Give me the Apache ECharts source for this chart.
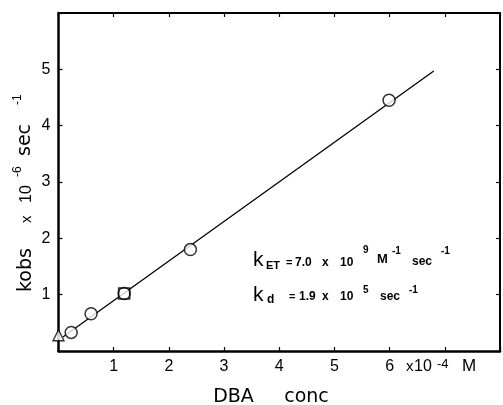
<!DOCTYPE html>
<html><head><meta charset="utf-8">
<script src="https://cdn.jsdelivr.net/npm/echarts@6/dist/echarts.min.js"></script>
<style>html,body{margin:0;padding:0;background:#fff}#c{width:503px;height:405px}</style>
</head><body><div id="c"></div>
<script>
// ---- data ----
const xTickLabels = ['', '1', '2', '3', '4', '5', '6', '', ''];
const yTickLabels = ['', '1', '2', '3', '4', '5', ''];
const circlePoints = [[0.23, 0.33], [0.59, 0.66], [1.19, 1.02], [2.39, 1.80], [5.99, 4.45]];
const squarePoints = [[1.19, 1.02]];
const trianglePoints = [[0, 0.28]];
const fitLine = [[0.08, 0.25], [6.8, 4.97]];

const FONT = 'Liberation Sans';
const WIDE = 'DejaVu Sans';
function txt(x, y, text, fs, extra) {
  return {
    type: 'text', x: x, y: y, silent: true,
    style: Object.assign({ text: text, fontSize: fs, fontFamily: FONT, fill: '#000',
      align: 'left', verticalAlign: 'middle' }, (extra && extra.style) || {})
  };
}
function b(x, y, text, fs) {
  return txt(x, y, text, fs, { style: { fontWeight: 'bold' } });
}

const chart = echarts.init(document.getElementById('c'), null, { renderer: 'canvas' });

const axisCommon = {
  type: 'value',
  splitLine: { show: false },
  axisTick: { inside: true, length: 4, lineStyle: { color: '#000', width: 1.2 } }
};

chart.setOption({
  animation: false,
  backgroundColor: '#fff',
  grid: { left: 58.5, right: 1.5, top: 13, bottom: 54 },
  xAxis: [
    Object.assign({}, axisCommon, {
      min: 0, max: 8, interval: 1, position: 'bottom',
      axisLine: { show: true, onZero: false, lineStyle: { color: '#000', width: 2.5 } },
      axisLabel: { margin: 8, fontSize: 16, color: '#000', fontFamily: FONT,
        formatter: v => xTickLabels[Math.round(v)] }
    }),
    Object.assign({}, axisCommon, {
      min: 0, max: 8, interval: 1, position: 'top',
      axisLine: { show: true, onZero: false, lineStyle: { color: '#000', width: 2 } },
      axisLabel: { show: false }
    })
  ],
  yAxis: [
    Object.assign({}, axisCommon, {
      min: 0, max: 6, interval: 1, position: 'left',
      axisLine: { show: true, onZero: false, lineStyle: { color: '#000', width: 2.5 } },
      axisLabel: { margin: 8, fontSize: 16, color: '#000', fontFamily: FONT,
        formatter: v => yTickLabels[Math.round(v)] }
    }),
    Object.assign({}, axisCommon, {
      min: 0, max: 6, interval: 1, position: 'right',
      axisLine: { show: true, onZero: false, lineStyle: { color: '#000', width: 2 } },
      axisLabel: { show: false }
    })
  ],
  series: [
    { type: 'line', data: fitLine, symbol: 'none', silent: true, z: 1,
      lineStyle: { color: '#000', width: 1.3 } },
    { type: 'scatter', data: circlePoints, symbol: 'circle', symbolSize: 12, z: 2,
      itemStyle: { color: '#fff', borderColor: '#000', borderWidth: 1.5 } },
    { type: 'scatter', data: squarePoints, symbol: 'rect', symbolSize: 11, z: 3,
      itemStyle: { color: 'rgba(0,0,0,0)', borderColor: '#000', borderWidth: 1.6 } },
    { type: 'scatter', data: trianglePoints, symbol: 'triangle', symbolSize: 11, z: 3,
      itemStyle: { color: '#fff', borderColor: '#000', borderWidth: 1.4 } }
  ],
  graphic: [
    // x-axis unit after the "6" tick label
    txt(406, 367, 'x', 15),
    txt(414, 367, '10', 16),
    txt(437, 364.5, '-4', 13),
    txt(462, 366, 'M', 17),
    // x-axis title
    txt(233.5, 397, 'DBA', 19, { style: { align: 'center', fontFamily: WIDE } }),
    txt(306.5, 397, 'conc', 19, { style: { align: 'center', fontFamily: WIDE } }),
    // rotated y-axis title
    {
      type: 'group', x: 26, y: 292, rotation: Math.PI / 2, silent: true,
      children: [
        txt(0, 0, 'kobs', 19, { style: { fontFamily: WIDE } }),
        txt(69, 1, 'x', 15),
        txt(89, 1, '10', 16),
        txt(115, -8.5, '-6', 12),
        txt(136, -1, 'sec', 19, { style: { fontFamily: WIDE } }),
        txt(187, -8, '-1', 12)
      ]
    },
    // annotation line 1
    txt(253, 260, 'k', 21),
    b(266, 266, 'ET', 11),
    b(286, 263, '=', 11),
    b(295, 263, '7.0', 12),
    b(322, 263, 'x', 12),
    b(340, 263, '10', 12),
    b(363, 250, '9', 10),
    b(377, 259, 'M', 13),
    b(392, 251, '-1', 10),
    b(412, 262, 'sec', 12),
    b(441, 251, '-1', 10),
    // annotation line 2
    txt(253, 295, 'k', 21),
    b(267, 300, 'd', 12),
    b(289, 297, '=', 11),
    b(299, 297, '1.9', 12),
    b(322, 297, 'x', 12),
    b(340, 297, '10', 12),
    b(363, 290, '5', 10),
    b(380, 297, 'sec', 12),
    b(409, 290, '-1', 10)
  ]
});
</script>
</body></html>
